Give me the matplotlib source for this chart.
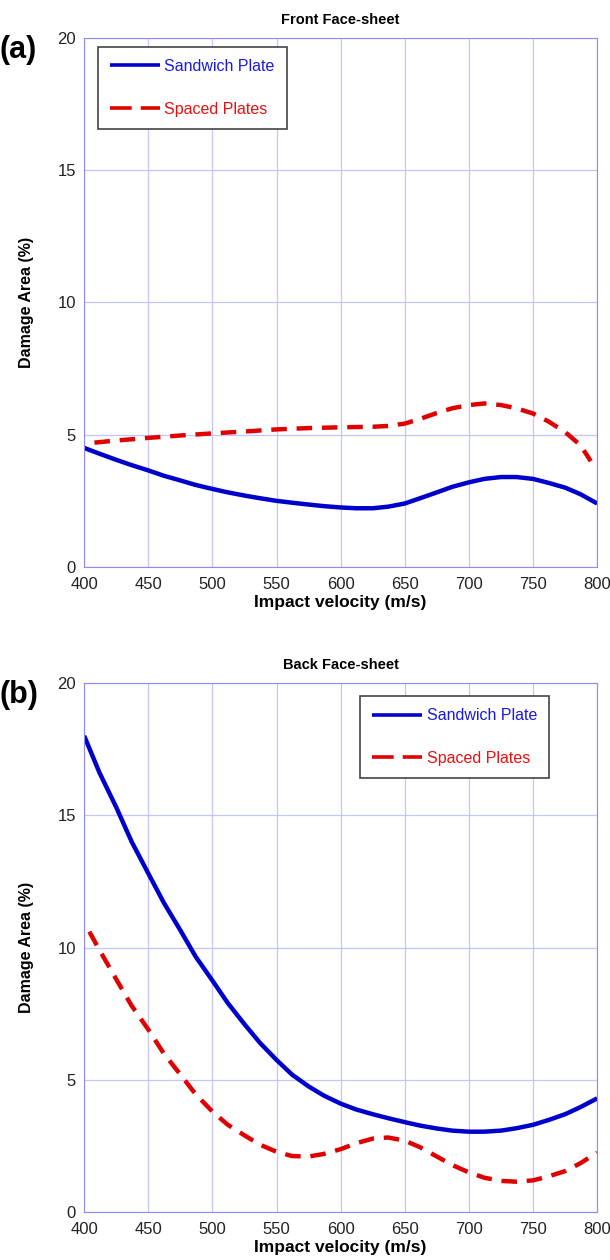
import matplotlib.pyplot as plt

plt.rcParams['font.family'] = ['Liberation Sans', 'DejaVu Sans']

# Front face-sheet (a)
v_front_sw = [400, 412, 425, 437, 450, 462, 475, 487, 500, 512, 525, 537, 550, 562, 575, 587, 600,
              612, 625, 637, 650, 662, 675, 687, 700, 712, 725, 737, 750, 762, 775, 787, 800]
d_front_sw = [4.5, 4.28, 4.05, 3.85, 3.65, 3.45, 3.27, 3.1, 2.95, 2.82, 2.7, 2.6, 2.5, 2.43, 2.36, 2.3, 2.25,
              2.22, 2.22, 2.28, 2.4, 2.6, 2.82, 3.03, 3.2, 3.33, 3.4, 3.4, 3.33, 3.18, 3.0, 2.75, 2.4]
v_front_sp = [408, 425, 450, 475, 500, 525, 550, 575, 600, 625, 637, 650, 662, 675, 687, 700,
              712, 725, 737, 750, 762, 775, 787, 795]
d_front_sp = [4.7, 4.78, 4.88, 4.97, 5.05, 5.12, 5.2, 5.25, 5.28, 5.3, 5.33, 5.42, 5.6, 5.82, 6.0, 6.12,
              6.18, 6.12, 6.0, 5.8, 5.5, 5.1, 4.6, 4.0]

# Back face-sheet (b)
v_back_sw = [400, 412, 425, 437, 450, 462, 475, 487, 500, 512, 525, 537, 550, 562, 575, 587, 600,
             612, 625, 637, 650, 662, 675, 687, 700, 712, 725, 737, 750, 762, 775, 787, 800]
d_back_sw = [18.0, 16.6, 15.3, 14.0, 12.8, 11.7, 10.65, 9.65, 8.75, 7.9, 7.1, 6.4, 5.75, 5.2, 4.75, 4.4, 4.1,
             3.88, 3.7, 3.55, 3.4, 3.27, 3.16, 3.08, 3.04, 3.04, 3.08, 3.17, 3.3, 3.48, 3.7, 3.97, 4.3]
v_back_sp = [404, 412, 425, 437, 450, 462, 475, 487, 500, 512, 525, 537, 550, 562, 575, 587, 600,
             612, 625, 637, 650, 662, 675, 687, 700, 712, 725, 737, 750, 762, 775, 787, 800]
d_back_sp = [10.6, 9.9, 8.8, 7.8, 6.9, 6.0, 5.2, 4.45, 3.8, 3.3, 2.9, 2.55, 2.28, 2.12, 2.1, 2.2, 2.38,
             2.6, 2.78, 2.82, 2.7, 2.45, 2.1, 1.78, 1.5, 1.3, 1.18, 1.15, 1.2, 1.35, 1.55, 1.85, 2.25]

x_ticks = [400, 450, 500, 550, 600, 650, 700, 750, 800]
y_ticks = [0, 5, 10, 15, 20]

blue = '#0000cc'
red = '#e00000'
grid_c = '#c4c4ff'
spine_c = '#8c8cf0'

fig = plt.figure(figsize=(6.1, 12.6), dpi=100)
ax1 = fig.add_axes([0.138, 0.55, 0.841, 0.42])
ax2 = fig.add_axes([0.138, 0.038, 0.841, 0.42])

panels = [
    (ax1, v_front_sw, d_front_sw, v_front_sp, d_front_sp, 'Front Face-sheet', '(a)', 'upper left', (0.027, 0.983)),
    (ax2, v_back_sw, d_back_sw, v_back_sp, d_back_sp, 'Back Face-sheet', '(b)', 'upper right', (0.906, 0.975)),
]

for ax, xs, ys, xp, yp, title, tag, loc, anchor in panels:
    ax.plot(xs, ys, color=blue, lw=3.2, label='Sandwich Plate', solid_capstyle='butt')
    ax.plot(xp, yp, color=red, lw=3.2, dashes=(3.5, 2.2), label='Spaced Plates')
    ax.set_xlim(400, 800)
    ax.set_ylim(0, 20)
    ax.set_xticks(x_ticks)
    ax.set_yticks(y_ticks)
    ax.grid(True, color=grid_c, lw=0.9)
    ax.set_axisbelow(True)
    for s in ax.spines.values():
        s.set_color(spine_c)
    ax.tick_params(axis='x', length=0, labelsize=12, labelcolor='#222222', pad=7)
    ax.tick_params(axis='y', length=0, labelsize=12, labelcolor='#222222', pad=6)
    ax.set_xlabel('Impact velocity (m/s)', fontsize=12.5, fontweight='bold', labelpad=2)
    ax.set_ylabel('Damage Area (%)', fontsize=11.5, fontweight='bold', labelpad=17)
    ax.set_title(title, fontsize=10.5, fontweight='bold', pad=10)
    ax.text(-0.165, 1.005, tag, transform=ax.transAxes, fontsize=22, fontweight='bold',
            ha='left', va='top')
    leg = ax.legend(loc=loc, bbox_to_anchor=anchor, fontsize=11.5,
                    labelspacing=1.75, handlelength=3.1, handletextpad=0.3, borderpad=0.75,
                    borderaxespad=0, fancybox=False, edgecolor='#444444', framealpha=1)
    leg.get_frame().set_linewidth(1.2)
    lines = leg.get_lines()
    lines[0].set_linewidth(2.6)
    lines[1].set_linewidth(2.6)
    lines[1].set_dashes((6, 2.5))
    for t, c in zip(leg.get_texts(), ['#1a1ae0', '#e81010']):
        t.set_color(c)

fig.savefig('out.png', dpi=100)
